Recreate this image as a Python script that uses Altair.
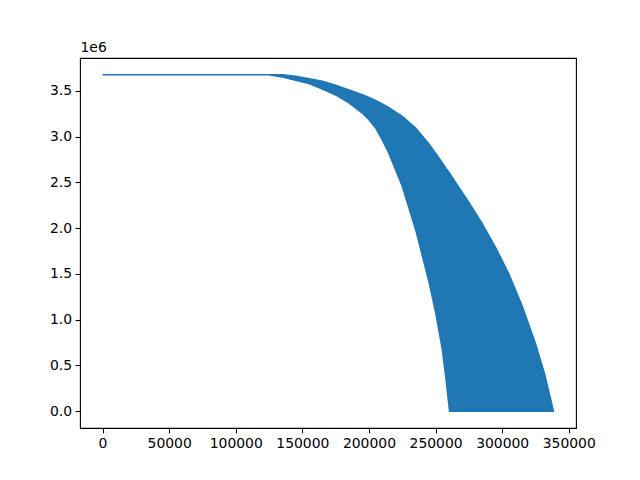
import altair as alt
import pandas as pd

# x positions (data units) and the two envelopes of the oscillating series
x_vals = [0, 125000, 135000, 145000, 155000, 165000, 175000, 185000, 195000,
          200000, 205000, 210000, 215000, 225000, 235000, 245000, 250000,
          255000, 258000, 260500, 265000, 275000, 285000, 295000, 305000,
          315000, 325000, 332000, 338500]
upper_vals = [3.675e6, 3.675e6, 3.675e6, 3.660e6, 3.632e6, 3.604e6, 3.561e6,
              3.510e6, 3.458e6, 3.428e6, 3.396e6, 3.358e6, 3.316e6, 3.222e6,
              3.095e6, 2.920e6, 2.820e6, 2.715e6, 2.650e6, 2.600e6, 2.500e6,
              2.280e6, 2.050e6, 1.790e6, 1.500e6, 1.150e6, 0.740e6, 0.400e6,
              0.0]
lower_vals = [3.675e6, 3.675e6, 3.651e6, 3.615e6, 3.580e6, 3.520e6, 3.455e6,
              3.369e6, 3.257e6, 3.185e6, 3.095e6, 2.965e6, 2.815e6, 2.457e6,
              1.986e6, 1.417e6, 1.083e6, 0.680e6, 0.330e6, 0.0, 0.0, 0.0,
              0.0, 0.0, 0.0, 0.0, 0.0, 0.0, 0.0]

x_ticks = [0, 50000, 100000, 150000, 200000, 250000, 300000, 350000]
y_ticks = [0, 0.5e6, 1.0e6, 1.5e6, 2.0e6, 2.5e6, 3.0e6, 3.5e6]

df = pd.DataFrame({"x": x_vals, "upper": upper_vals, "lower": lower_vals})

FONT = "DejaVu Sans"
FS = 13.9
BLUE = "#1f77b4"

chart = alt.Chart(df).mark_area(
    color=BLUE, stroke=BLUE, strokeWidth=1.5, interpolate="linear"
).encode(
    x=alt.X("x:Q",
            scale=alt.Scale(domain=[-16925, 355425], nice=False, zero=False),
            axis=alt.Axis(values=x_ticks, format="d", title=None)),
    y=alt.Y("upper:Q",
            scale=alt.Scale(domain=[-183750, 3858750], nice=False, zero=False),
            axis=alt.Axis(values=y_ticks,
                          labelExpr="format(datum.value/1e6, '.1f')",
                          title="1e6", titleAngle=0, titleAlign="left",
                          titleBaseline="bottom", titleX=0, titleY=-4,
                          titleFont=FONT, titleFontSize=FS,
                          titleFontWeight="normal", titleColor="black")),
    y2="lower:Q",
).properties(
    width=496, height=370,
    autosize=alt.AutoSizeParams(type="none"),
    padding={"left": 72, "top": 50, "right": 56, "bottom": 52},
    background="white",
).configure_view(
    stroke="black", strokeWidth=1.1
).configure_axis(
    grid=False, domain=False, ticks=True, tickSize=4.9, tickWidth=1.1,
    tickColor="black", labelColor="black", labelFont=FONT, labelFontSize=FS,
    labelPadding=3.5,
)

chart.save("out.html", embed_options={"renderer": "svg", "actions": False})
